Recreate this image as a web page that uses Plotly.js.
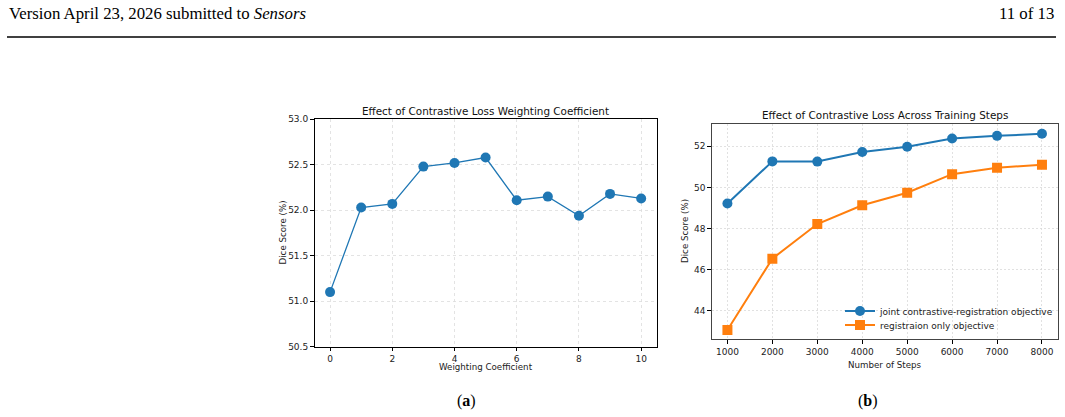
<!DOCTYPE html>
<html>
<head>
<meta charset="utf-8">
<script src="https://cdn.plot.ly/plotly-3.0.1.min.js"></script>
<style>
html,body{margin:0;padding:0;background:#fff;}
#chart{width:1065px;height:417px;}
</style>
</head>
<body>
<div id="chart"></div>
<script>
// Panel (a)
const weightCoeffs = [0, 1, 2, 3, 4, 5, 6, 7, 8, 9, 10];
const diceByWeight = [51.10, 52.03, 52.07, 52.48, 52.52, 52.58, 52.11, 52.15, 51.94, 52.18, 52.13];
// Panel (b)
const trainingSteps = [1000, 2000, 3000, 4000, 5000, 6000, 7000, 8000];
const diceJoint = [49.22, 51.26, 51.25, 51.72, 51.97, 52.37, 52.50, 52.60];
const diceRegOnly = [43.08, 46.54, 48.22, 49.13, 49.74, 50.64, 50.95, 51.10];
const seriesNames = ["joint contrastive-registration objective", "registraion only objective"];
const leftYTicks = [50.5, 51.0, 51.5, 52.0, 52.5, 53.0];
const leftXTicks = [0, 2, 4, 6, 8, 10];
const rightYTicks = [44, 46, 48, 50, 52];

const W = 1065, H = 417;
const px = v => v / W;
const py = v => 1 - v / H;

const font = "DejaVu Sans, sans-serif";
const serif = "Liberation Serif, DejaVu Serif, serif";

const traces = [
  {x: weightCoeffs, y: diceByWeight, xaxis: 'x', yaxis: 'y', mode: 'lines+markers',
   line: {color: '#1f77b4', width: 1.3}, marker: {color: '#1f77b4', size: 10, symbol: 'circle'},
   showlegend: false},
  {x: trainingSteps, y: diceJoint, xaxis: 'x2', yaxis: 'y2', mode: 'lines+markers', name: seriesNames[0],
   legend: 'legend',
   line: {color: '#1f77b4', width: 2}, marker: {color: '#1f77b4', size: 10, symbol: 'circle'}},
  {x: trainingSteps, y: diceRegOnly, xaxis: 'x2', yaxis: 'y2', mode: 'lines+markers', name: seriesNames[1],
   legend: 'legend2',
   line: {color: '#ff7f0e', width: 2}, marker: {color: '#ff7f0e', size: 10, symbol: 'square'}}
];

const axisCommon = {
  showline: true, mirror: true, linewidth: 1, ticks: 'outside', ticklen: 3.5, tickwidth: 1,
  tickcolor: '#000', zeroline: false, showgrid: true, gridwidth: 0.8,
  tickfont: {family: font, size: 9, color: '#222'}
};

const legendCommon = {xanchor: 'left', yanchor: 'middle', bgcolor: 'rgba(0,0,0,0)',
  font: {family: font, size: 9, color: '#222'}, itemwidth: 30};

const layout = {
  width: W, height: H, margin: {l: 0, r: 0, t: 0, b: 0},
  paper_bgcolor: '#fff', plot_bgcolor: '#fff',
  xaxis: Object.assign({}, axisCommon, {domain: [px(314.5), px(656.7)], anchor: 'y',
    range: [-0.5, 10.5], tickvals: leftXTicks, linecolor: '#000', gridcolor: '#dcdcdc', griddash: 'dot'}),
  yaxis: Object.assign({}, axisCommon, {domain: [py(346.7), py(119.3)], anchor: 'x',
    range: [50.5, 53.0], tickvals: leftYTicks, tickformat: '.1f', linecolor: '#000', gridcolor: '#dcdcdc', griddash: 'dot'}),
  xaxis2: Object.assign({}, axisCommon, {domain: [px(711.7), px(1057.7)], anchor: 'y2',
    range: [650, 8350], tickvals: trainingSteps, linecolor: '#444', gridcolor: '#dadada', griddash: '2px,2px'}),
  yaxis2: Object.assign({}, axisCommon, {domain: [py(339.3), py(124)], anchor: 'x2',
    range: [42.625, 53.075], tickvals: rightYTicks, linecolor: '#444', gridcolor: '#dadada', griddash: '2px,2px'}),
  showlegend: true,
  legend: Object.assign({}, legendCommon, {x: px(840), y: py(311)}),
  legend2: Object.assign({}, legendCommon, {x: px(840), y: py(325)}),
  annotations: [
    {text: 'Effect of Contrastive Loss Weighting Coefficient', x: px(485.6), y: py(111), xref: 'paper', yref: 'paper',
     showarrow: false, xanchor: 'center', yanchor: 'middle', font: {family: font, size: 10.4, color: '#111'}},
    {text: 'Effect of Contrastive Loss Across Training Steps', x: px(884.7), y: py(115), xref: 'paper', yref: 'paper',
     showarrow: false, xanchor: 'center', yanchor: 'middle', font: {family: font, size: 10.4, color: '#111'}},
    {text: 'Weighting Coefficient', x: px(485.6), y: py(366.5), xref: 'paper', yref: 'paper',
     showarrow: false, xanchor: 'center', yanchor: 'middle', font: {family: font, size: 8.7, color: '#222'}},
    {text: 'Number of Steps', x: px(884.7), y: py(364.5), xref: 'paper', yref: 'paper',
     showarrow: false, xanchor: 'center', yanchor: 'middle', font: {family: font, size: 8.7, color: '#222'}},
    {text: 'Dice Score (%)', x: px(282.5), y: py(233), xref: 'paper', yref: 'paper', textangle: -90,
     showarrow: false, xanchor: 'center', yanchor: 'middle', font: {family: font, size: 8.7, color: '#222'}},
    {text: 'Dice Score (%)', x: px(684.5), y: py(231.5), xref: 'paper', yref: 'paper', textangle: -90,
     showarrow: false, xanchor: 'center', yanchor: 'middle', font: {family: font, size: 8.7, color: '#222'}},
    {text: '(<b>a</b>)', x: px(466), y: py(401), xref: 'paper', yref: 'paper',
     showarrow: false, xanchor: 'center', yanchor: 'middle', font: {family: serif, size: 16, color: '#000'}},
    {text: '(<b>b</b>)', x: px(868), y: py(401), xref: 'paper', yref: 'paper',
     showarrow: false, xanchor: 'center', yanchor: 'middle', font: {family: serif, size: 16, color: '#000'}},
    {text: 'Version April 23, 2026 submitted to <i>Sensors</i>', x: px(7), y: py(13), xref: 'paper', yref: 'paper',
     showarrow: false, xanchor: 'left', yanchor: 'middle', font: {family: serif, size: 16.8, color: '#000'}},
    {text: '11 of 13', x: px(1056), y: py(13), xref: 'paper', yref: 'paper',
     showarrow: false, xanchor: 'right', yanchor: 'middle', font: {family: serif, size: 16.8, color: '#000'}}
  ],
  shapes: [
    {type: 'line', xref: 'paper', yref: 'paper', x0: px(7), x1: px(1056), y0: py(37), y1: py(37),
     line: {color: '#000', width: 1.5}}
  ]
};

Plotly.newPlot('chart', traces, layout, {displayModeBar: false, staticPlot: true});
</script>
</body>
</html>
